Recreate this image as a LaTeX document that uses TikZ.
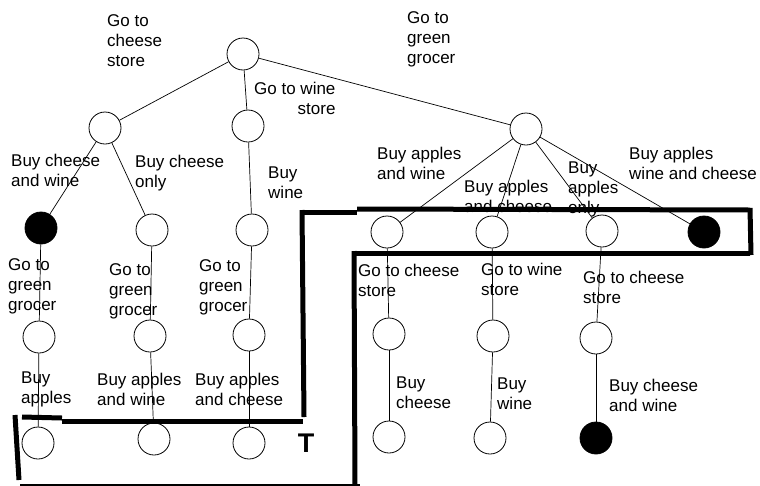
\documentclass[tikz,border=0pt]{standalone}
\usepackage{fontspec}
\setmainfont{Liberation Sans}
\usepackage{tikz}

\tikzset{
  state/.style={circle,draw,fill=white,line width=0.8pt,minimum size=32pt,inner sep=0pt},
  goal/.style={state,fill=black},
  act/.style={anchor=north west,align=left,inner sep=0pt,font=\fontsize{17}{20}\selectfont},
  edge/.style={line width=0.7pt},
  frame/.style={line width=5pt}
}

\begin{document}
\begin{tikzpicture}[x=1pt,y=-1pt]
  \useasboundingbox (0,0) rectangle (760,485);

  % states
  \node[state] (top) at (243,54) {};
  \node[state] (cheese) at (105,128) {};
  \node[state] (wine) at (248,126) {};
  \node[state] (grocer) at (526,129) {};

  \node[goal] (cwA) at (41,228) {};
  \node[state] (coA) at (152,230) {};
  \node[state] (wA) at (252,230) {};
  \node[state] (cwB) at (39,337) {};
  \node[state] (coB) at (150,336) {};
  \node[state] (wB) at (249,335) {};
  \node[state] (cwC) at (38,443) {};
  \node[state] (coC) at (154,439) {};
  \node[state] (wC) at (249,443) {};

  \node[state] (awA) at (387,232) {};
  \node[state] (acA) at (492,232) {};
  \node[state] (aoA) at (602,231) {};
  \node[goal] (allA) at (704,232) {};
  \node[state] (awB) at (389,334) {};
  \node[state] (acB) at (493,336) {};
  \node[state] (aoB) at (596,338) {};
  \node[state] (awC) at (389,437) {};
  \node[state] (acC) at (490,438) {};
  \node[goal] (aoC) at (596,438) {};

  % moves
  \draw[edge] (top) -- (cheese);
  \draw[edge] (top) -- (wine);
  \draw[edge] (top) -- (grocer);
  \draw[edge] (cheese) -- (cwA);
  \draw[edge] (cheese) -- (coA);
  \draw[edge] (wine) -- (wA);
  \draw[edge] (cwA) -- (cwB);
  \draw[edge] (coA) -- (coB);
  \draw[edge] (wA) -- (wB);
  \draw[edge] (cwB) -- (cwC);
  \draw[edge] (coB) -- (coC);
  \draw[edge] (wB) -- (wC);
  \draw[edge] (grocer) -- (awA);
  \draw[edge] (grocer) -- (acA);
  \draw[edge] (grocer) -- (aoA);
  \draw[edge] (grocer) -- (allA);
  \draw[edge] (awA) -- (awB);
  \draw[edge] (acA) -- (acB);
  \draw[edge] (aoA) -- (aoB);
  \draw[edge] (awB) -- (awC);
  \draw[edge] (acB) -- (acC);
  \draw[edge] (aoB) -- (aoC);

  % action labels
  \node[act] (lcs) at (107,14) {Go to\\cheese\\store};
  \node[act,align=right] (lws) at (254,82) {Go to wine\\store};
  \node[act] (lgg) at (407,11) {Go to\\green\\grocer};

  \node[act] (lbcw) at (11,154) {Buy cheese\\and wine};
  \node[act] (lbco) at (135,155) {Buy cheese\\only};
  \node[act] (lbw) at (268,167) {Buy\\wine};
  \node[act] (lbaw) at (377,147) {Buy apples\\and wine};
  \node[act] (lbac) at (464,180) {Buy apples\\and cheese};
  \node[act] (lbao) at (568,162) {Buy\\apples\\only};
  \node[act] (lball) at (629,147) {Buy apples\\wine and cheese};

  \node[act] (lgg1) at (8,258) {Go to\\green\\grocer};
  \node[act] (lgg2) at (109,263) {Go to\\green\\grocer};
  \node[act] (lgg3) at (199,259) {Go to\\green\\grocer};
  \node[act] (lba1) at (21,372) {Buy\\apples};
  \node[act] (lba2) at (97,373) {Buy apples\\and wine};
  \node[act] (lba3) at (195,373) {Buy apples\\and cheese};

  \node[act] (lcs1) at (358,264) {Go to cheese\\store};
  \node[act] (lws1) at (481,263) {Go to wine\\store};
  \node[act] (lcs2) at (583,271) {Go to cheese\\store};
  \node[act] (lbc1) at (396,377) {Buy\\cheese};
  \node[act] (lbw1) at (497,378) {Buy\\wine};
  \node[act] (lbcw1) at (609,379) {Buy cheese\\and wine};

  % hand drawn boundary
  \draw[frame] (22,417) -- (62,418);
  \draw[frame] (62,421) -- (303,421);
  \draw[frame] (304,417) -- (302,210);
  \draw[frame] (303,212) -- (357,212);
  \draw[frame] (357,209) -- (750,210);
  \draw[frame] (750,208) -- (751,255);
  \draw[frame] (750,253) -- (352,253);
  \draw[frame] (354,251) -- (355,486);
  \draw[frame] (20,486) -- (360,486);
  \draw[frame] (15,415) -- (19,480);

  \node[font=\bfseries\fontsize{27}{27}\selectfont,inner sep=0pt] (tag) at (306,443) {T};
\end{tikzpicture}
\end{document}
